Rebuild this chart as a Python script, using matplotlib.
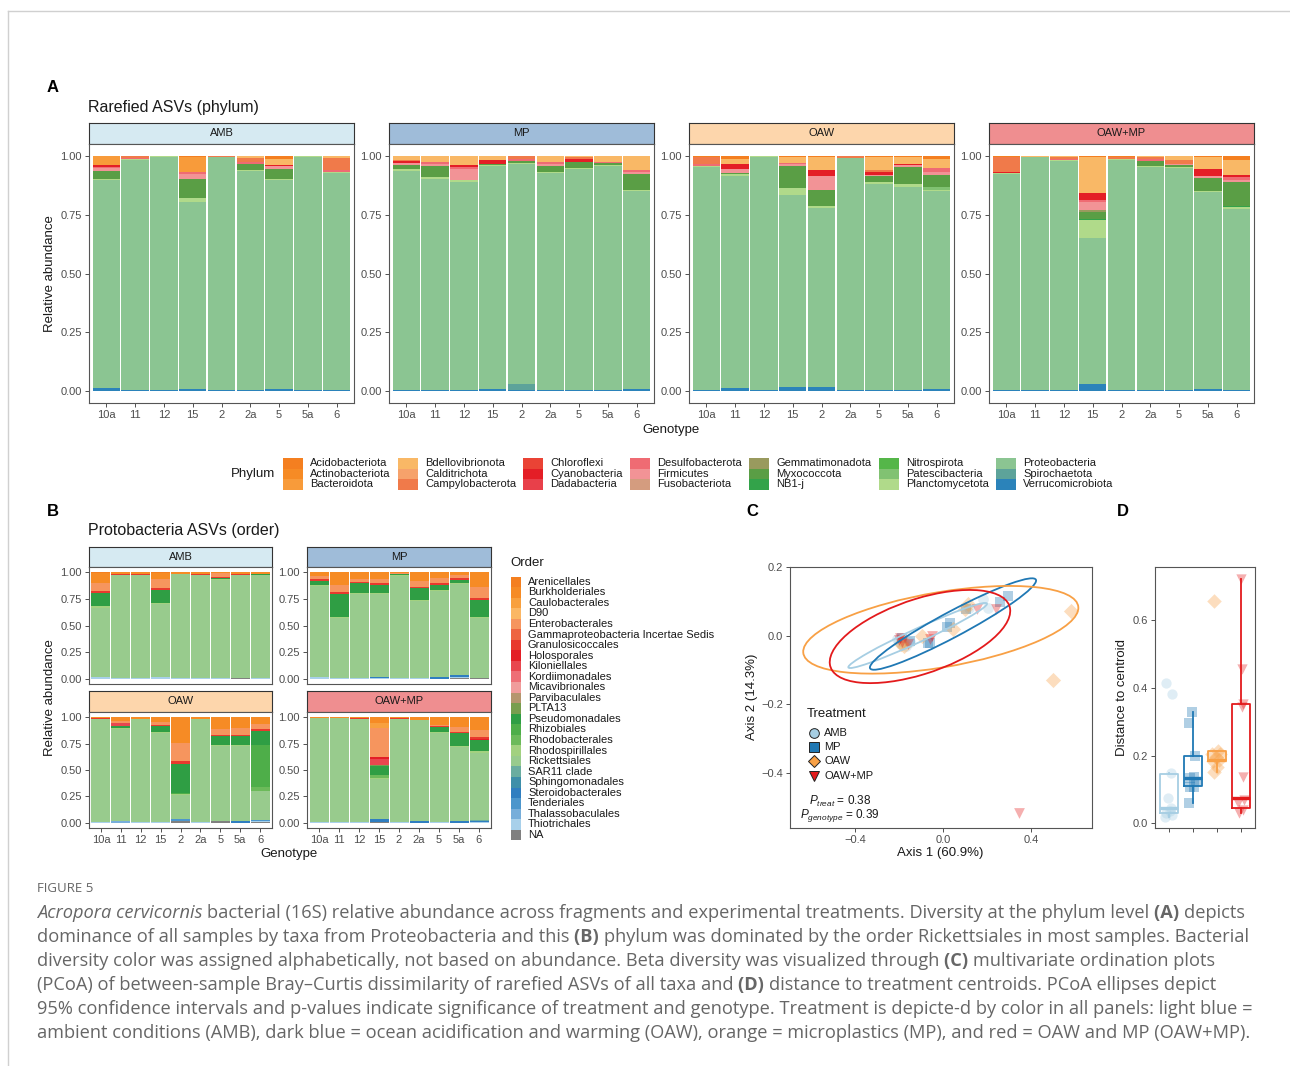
import numpy as np
import matplotlib
matplotlib.use("Agg")
import matplotlib.pyplot as plt
from matplotlib.patches import Ellipse, Rectangle
from matplotlib.lines import Line2D

plt.rcParams["font.family"] = ["Liberation Sans", "DejaVu Sans"]
plt.rcParams["mathtext.fontset"] = "custom"
plt.rcParams["mathtext.rm"] = "Liberation Sans"
plt.rcParams["mathtext.it"] = "Liberation Sans:italic"
plt.rcParams["mathtext.bf"] = "Liberation Sans:bold"

# ---------------- data ----------------
genotypes = ["10a", "11", "12", "15", "2", "2a", "5", "5a", "6"]
treatments = ["AMB", "MP", "OAW", "OAW+MP"]
strip_colors = ["#D6EAF2", "#9FBCD9", "#FDD6AC", "#EF8E90"]
treat_colors = ["#A6CEE3", "#1F78B4", "#F8A045", "#E31A1C"]
treat_markers = ["o", "s", "D", "v"]

phyla = ["Acidobacteriota", "Actinobacteriota", "Bacteroidota", "Bdellovibrionota",
         "Calditrichota", "Campylobacterota", "Chloroflexi", "Cyanobacteria",
         "Dadabacteria", "Desulfobacterota", "Firmicutes", "Fusobacteriota",
         "Gemmatimonadota", "Myxococcota", "NB1-j", "Nitrospirota", "Patescibacteria",
         "Planctomycetota", "Proteobacteria", "Spirochaetota", "Verrucomicrobiota"]
phylum_colors = ["#F47F20", "#F68B25", "#F89B3A", "#F9B866", "#F6A26B", "#F07A4A",
                 "#EA4335", "#E41E26", "#E8404A", "#EF6B73", "#F29396", "#D49C7F",
                 "#999A5E", "#5A9E45", "#33A34A", "#55B649", "#81C272", "#B0DA8A",
                 "#8BC592", "#5DA39A", "#2B83BA"]

phylum_amb = {
    "Verrucomicrobiota": [0.012, 0.005, 0.005, 0.010, 0.005, 0.005, 0.010, 0.005, 0.005],
    "Proteobacteria":    [0.883, 0.978, 0.990, 0.795, 0.988, 0.930, 0.885, 0.990, 0.920],
    "Planctomycetota":   [0.005, 0.004, 0.003, 0.017, 0.003, 0.005, 0.005, 0.003, 0.005],
    "Myxococcota":       [0.035, 0, 0, 0.080, 0, 0.025, 0.043, 0, 0],
    "Firmicutes":        [0.012, 0, 0, 0.020, 0, 0, 0.012, 0, 0],
    "Desulfobacterota":  [0.005, 0.004, 0, 0.008, 0, 0.010, 0, 0, 0.010],
    "Cyanobacteria":     [0.008, 0, 0, 0, 0, 0, 0.007, 0, 0],
    "Campylobacterota":  [0, 0.006, 0, 0, 0.004, 0.015, 0, 0, 0.050],
    "Bdellovibrionota":  [0, 0, 0, 0, 0, 0.010, 0.023, 0, 0.010],
    "Bacteroidota":      [0.040, 0, 0.002, 0.065, 0, 0, 0, 0.002, 0],
    "Acidobacteriota":   [0, 0.003, 0, 0.005, 0, 0, 0.015, 0, 0],
}
phylum_mp = {
    "Verrucomicrobiota": [0.005, 0.004, 0.004, 0.010, 0.005, 0.005, 0.004, 0.004, 0.008],
    "Spirochaetota":     [0, 0, 0, 0, 0.025, 0, 0, 0, 0],
    "Proteobacteria":    [0.930, 0.898, 0.883, 0.948, 0.935, 0.922, 0.940, 0.951, 0.842],
    "Planctomycetota":   [0.007, 0.008, 0.008, 0.004, 0.004, 0.005, 0.004, 0.004, 0.006],
    "Myxococcota":       [0.020, 0.045, 0.003, 0.005, 0.008, 0.025, 0.027, 0.010, 0.066],
    "Firmicutes":        [0.008, 0.012, 0.047, 0, 0, 0.010, 0, 0, 0.010],
    "Desulfobacterota":  [0, 0.005, 0.007, 0, 0.010, 0.008, 0, 0.005, 0.008],
    "Cyanobacteria":     [0.008, 0, 0.010, 0.017, 0, 0, 0.010, 0, 0],
    "Campylobacterota":  [0.006, 0, 0, 0, 0.013, 0, 0.008, 0, 0],
    "Bdellovibrionota":  [0.016, 0.028, 0.038, 0.016, 0, 0.025, 0.007, 0.026, 0.060],
}
phylum_oaw = {
    "Verrucomicrobiota": [0.004, 0.012, 0.004, 0.020, 0.018, 0.004, 0.007, 0.004, 0.008],
    "Proteobacteria":    [0.948, 0.904, 0.990, 0.815, 0.761, 0.985, 0.871, 0.862, 0.842],
    "Planctomycetota":   [0.004, 0.008, 0.003, 0.027, 0.008, 0.003, 0.012, 0.014, 0.006],
    "Patescibacteria":   [0, 0, 0, 0, 0, 0, 0, 0, 0.012],
    "Myxococcota":       [0, 0.004, 0, 0.094, 0.067, 0, 0.022, 0.074, 0.051],
    "Firmicutes":        [0, 0.015, 0, 0.010, 0.062, 0, 0.008, 0.008, 0.012],
    "Desulfobacterota":  [0.008, 0, 0, 0.005, 0, 0, 0, 0, 0.020],
    "Cyanobacteria":     [0, 0.020, 0, 0, 0.025, 0, 0.010, 0.005, 0],
    "Campylobacterota":  [0.030, 0, 0.003, 0, 0, 0.008, 0.010, 0, 0],
    "Bdellovibrionota":  [0, 0.022, 0, 0.025, 0.055, 0, 0.055, 0.028, 0.035],
    "Acidobacteriota":   [0.006, 0.015, 0, 0.004, 0.004, 0, 0.005, 0.005, 0.015],
}
phylum_oawmp = {
    "Verrucomicrobiota": [0.005, 0.005, 0.005, 0.030, 0.004, 0.005, 0.004, 0.010, 0.005],
    "Proteobacteria":    [0.918, 0.988, 0.974, 0.619, 0.979, 0.946, 0.943, 0.833, 0.771],
    "Planctomycetota":   [0.004, 0.003, 0.004, 0.080, 0.004, 0.005, 0.004, 0.004, 0.005],
    "NB1-j":             [0, 0, 0, 0.004, 0, 0, 0, 0, 0.005],
    "Myxococcota":       [0, 0, 0, 0.030, 0, 0.022, 0.008, 0.056, 0.102],
    "Gemmatimonadota":   [0, 0, 0, 0.006, 0, 0, 0, 0, 0],
    "Firmicutes":        [0, 0, 0, 0.035, 0, 0, 0.008, 0.008, 0.010],
    "Desulfobacterota":  [0, 0, 0.006, 0.010, 0, 0.008, 0, 0, 0.010],
    "Cyanobacteria":     [0.005, 0, 0, 0.030, 0, 0, 0, 0.030, 0.012],
    "Campylobacterota":  [0.063, 0, 0.007, 0, 0.009, 0.010, 0.015, 0, 0],
    "Bdellovibrionota":  [0, 0.004, 0.006, 0.150, 0, 0.004, 0.018, 0.050, 0.060],
    "Acidobacteriota":   [0.005, 0, 0, 0.006, 0.004, 0, 0, 0.006, 0.020],
}

orders = ["Arenicellales", "Burkholderiales", "Caulobacterales", "D90", "Enterobacterales",
          "Gammaproteobacteria Incertae Sedis", "Granulosicoccales", "Holosporales",
          "Kiloniellales", "Kordiimonadales", "Micavibrionales", "Parvibaculales", "PLTA13",
          "Pseudomonadales", "Rhizobiales", "Rhodobacterales", "Rhodospirillales",
          "Rickettsiales", "SAR11 clade", "Sphingomonadales", "Steroidobacterales",
          "Tenderiales", "Thalassobaculales", "Thiotrichales", "NA"]
order_colors = ["#F47F20", "#F68B25", "#F8A03E", "#FBB764", "#F6955E", "#EE6541",
                "#E8392E", "#E31E26", "#E8474F", "#EE6F76", "#F09C9B", "#B5966E",
                "#789E4E", "#2F9E44", "#4EAE49", "#6CBA5A", "#A2D17F", "#98CB8D",
                "#6AADA0", "#3E8FA9", "#2F7EC0", "#4C96CC", "#77AEDA", "#A8D0EA", "#808080"]

order_amb = {
    "Thiotrichales":     [0.015, 0.005, 0.010, 0.020, 0.005, 0.005, 0.005, 0, 0.005],
    "NA":                [0, 0, 0, 0, 0, 0, 0, 0.010, 0],
    "Rickettsiales":     [0.650, 0.973, 0.968, 0.686, 0.980, 0.970, 0.922, 0.965, 0.970],
    "Rhodospirillales":  [0.015, 0, 0, 0.010, 0, 0, 0.008, 0, 0],
    "Pseudomonadales":   [0.127, 0, 0, 0.120, 0, 0, 0.015, 0, 0.010],
    "Granulosicoccales": [0.022, 0.010, 0.010, 0.015, 0, 0.010, 0.010, 0.012, 0],
    "Enterobacterales":  [0.073, 0, 0, 0.085, 0, 0, 0.030, 0, 0],
    "Burkholderiales":   [0.095, 0.012, 0.012, 0.060, 0.015, 0.015, 0.010, 0.013, 0.015],
    "Arenicellales":     [0.003, 0, 0, 0.004, 0, 0, 0, 0, 0],
}
order_mp = {
    "Thiotrichales":      [0.015, 0.010, 0.010, 0.010, 0.005, 0.005, 0, 0.010, 0],
    "Steroidobacterales": [0, 0, 0, 0.010, 0, 0, 0.020, 0.010, 0],
    "NA":                 [0, 0, 0, 0, 0, 0, 0, 0.010, 0.010],
    "Rickettsiales":      [0.858, 0.563, 0.790, 0.777, 0.963, 0.720, 0.806, 0.859, 0.563],
    "Rhodospirillales":   [0.010, 0.010, 0.010, 0.010, 0.005, 0.010, 0.010, 0.010, 0.010],
    "Pseudomonadales":    [0.035, 0.212, 0.085, 0.075, 0.007, 0.114, 0.045, 0.025, 0.158],
    "Granulosicoccales":  [0.015, 0.020, 0.010, 0.013, 0, 0.015, 0.015, 0.020, 0.020],
    "Enterobacterales":   [0.032, 0.065, 0.030, 0.045, 0.010, 0.055, 0.055, 0.030, 0.104],
    "Burkholderiales":    [0.035, 0.120, 0.065, 0.060, 0.010, 0.080, 0.050, 0.025, 0.135],
}
order_oaw = {
    "Thiotrichales":      [0.005, 0, 0.005, 0.005, 0, 0.005, 0, 0, 0.010],
    "Thalassobaculales":  [0, 0.020, 0, 0, 0, 0, 0, 0, 0],
    "Tenderiales":        [0, 0, 0, 0, 0.015, 0, 0, 0, 0.010],
    "Steroidobacterales": [0, 0, 0, 0, 0, 0, 0, 0.015, 0],
    "NA":                 [0, 0, 0, 0, 0.020, 0, 0.015, 0, 0.010],
    "Rickettsiales":      [0.980, 0.867, 0.980, 0.850, 0.226, 0.980, 0.715, 0.715, 0.270],
    "Rhodospirillales":   [0, 0.010, 0, 0.010, 0.010, 0, 0.010, 0.010, 0],
    "Rhodobacterales":    [0, 0, 0, 0, 0, 0, 0, 0, 0.040],
    "Rhizobiales":        [0, 0, 0, 0, 0.010, 0, 0, 0, 0.400],
    "Pseudomonadales":    [0, 0.020, 0, 0.050, 0.274, 0, 0.080, 0.080, 0.132],
    "Kiloniellales":      [0, 0.030, 0, 0, 0, 0, 0, 0, 0],
    "Granulosicoccales":  [0.005, 0, 0, 0.015, 0.025, 0, 0.015, 0.015, 0.015],
    "Enterobacterales":   [0, 0.020, 0, 0.025, 0.173, 0, 0.050, 0.065, 0.050],
    "Burkholderiales":    [0.010, 0.033, 0.015, 0.045, 0.245, 0.015, 0.115, 0.100, 0.063],
}
order_oawmp = {
    "Thiotrichales":      [0.005, 0.005, 0.005, 0, 0.005, 0, 0.010, 0, 0.010],
    "Steroidobacterales": [0, 0, 0, 0.030, 0, 0.015, 0, 0.020, 0.010],
    "SAR11 clade":        [0, 0, 0, 0, 0, 0, 0, 0, 0.010],
    "NA":                 [0, 0, 0, 0.010, 0, 0, 0, 0, 0],
    "Rickettsiales":      [0.985, 0.985, 0.980, 0.370, 0.980, 0.960, 0.845, 0.697, 0.637],
    "Rhodospirillales":   [0.005, 0, 0, 0.010, 0, 0, 0.010, 0.010, 0.010],
    "Rhodobacterales":    [0, 0, 0, 0.030, 0, 0, 0, 0, 0],
    "Pseudomonadales":    [0, 0, 0, 0.085, 0, 0, 0.045, 0.120, 0.110],
    "PLTA13":             [0, 0, 0, 0.010, 0, 0, 0, 0, 0],
    "Kiloniellales":      [0, 0, 0, 0.060, 0, 0, 0, 0, 0],
    "Holosporales":       [0, 0, 0, 0.015, 0, 0, 0, 0, 0.010],
    "Granulosicoccales":  [0, 0, 0.010, 0, 0.010, 0, 0.010, 0.015, 0.015],
    "Enterobacterales":   [0, 0, 0, 0.280, 0, 0, 0.010, 0.050, 0.070],
    "Caulobacterales":    [0, 0, 0, 0.050, 0, 0, 0, 0, 0],
    "Burkholderiales":    [0.005, 0.010, 0.005, 0.050, 0.005, 0.025, 0.070, 0.088, 0.120],
}

# PCoA scores (Axis 1, Axis 2)
amb_ax1 = [0.183, 0.206, 0.120, -0.180, -0.200, -0.170, -0.190, -0.150, -0.210]
amb_ax2 = [0.106, 0.081, 0.080, -0.020, -0.015, -0.030, -0.025, -0.020, -0.010]
mp_ax1 = [0.297, 0.259, 0.103, 0.032, 0.017, -0.067, -0.058, -0.150, -0.188]
mp_ax2 = [0.116, 0.099, 0.076, 0.037, 0.026, -0.021, -0.022, -0.017, -0.007]
oaw_ax1 = [0.582, 0.501, 0.115, 0.100, 0.047, -0.097, -0.180, -0.190, -0.175]
oaw_ax2 = [0.072, -0.129, 0.091, 0.078, 0.018, -0.002, -0.017, -0.025, -0.030]
oawmp_ax1 = [0.347, 0.153, 0.241, -0.051, -0.060, -0.195, -0.158, -0.185, -0.200]
oawmp_ax2 = [-0.517, 0.078, 0.076, -0.002, -0.010, -0.007, -0.026, -0.020, -0.012]
# 95% ellipses: centre x, centre y, half extent x, half extent y, correlation
ellipse_amb = [-0.115, 0.000, 0.315, 0.095, 0.973]
ellipse_mp = [0.0455, 0.0335, 0.3775, 0.1335, 0.95]
ellipse_oaw = [-0.010, 0.0167, 0.625, 0.128, 0.50]
ellipse_oawmp = [-0.1045, -0.003, 0.410, 0.136, 0.55]

# distance to centroid
dist_amb = [0.414, 0.381, 0.148, 0.074, 0.044, 0.035, 0.030, 0.025, 0.020]
dist_mp = [0.330, 0.296, 0.199, 0.138, 0.133, 0.123, 0.108, 0.108, 0.061]
dist_oaw = [0.656, 0.214, 0.205, 0.195, 0.188, 0.183, 0.167, 0.152, 0.205]
dist_oawmp = [0.722, 0.456, 0.352, 0.344, 0.138, 0.070, 0.060, 0.040, 0.030]
jitter_amb = [-0.10, 0.15, 0.10, -0.05, 0.10, 0.05, -0.12, 0.12, -0.15]
jitter_mp = [-0.05, -0.15, 0.10, 0.05, -0.10, 0.15, -0.10, 0.05, -0.15]
jitter_oaw = [-0.10, 0.05, 0.15, -0.05, 0.10, -0.15, 0.00, -0.10, -0.20]
jitter_oawmp = [0.00, 0.05, 0.10, 0.05, 0.10, 0.15, -0.10, 0.10, -0.05]
box_q1 = [0.029, 0.110, 0.185, 0.046]
box_med = [0.044, 0.133, 0.188, 0.074]
box_q3 = [0.145, 0.199, 0.215, 0.352]
box_lo = [0.020, 0.061, 0.152, 0.030]
box_hi = [0.148, 0.330, 0.215, 0.722]

# ---------------- layout helpers ----------------
W, H = 1290, 1066
TXT = "#4D4D4D"
DARK = "#1A1A1A"
fig = plt.figure(figsize=(W / 100, H / 100), dpi=100)


def fx(x):
    return x / W


def fy(y):
    return 1 - y / H


def add_ax(x0, y0, x1, y1):
    return fig.add_axes([x0 / W, 1 - y1 / H, (x1 - x0) / W, (y1 - y0) / H])


def style(ax):
    for s in ax.spines.values():
        s.set_color("#555555")
        s.set_linewidth(0.8)
    ax.tick_params(colors="#333333", labelcolor=TXT, labelsize=8, length=3, width=0.6, pad=2)


def strip(x0, y0, x1, y1, label, color):
    sa = add_ax(x0, y0, x1, y1)
    sa.set_facecolor(color)
    sa.set_xticks([])
    sa.set_yticks([])
    for s in sa.spines.values():
        s.set_color("#333333")
        s.set_linewidth(0.8)
    sa.text(0.5, 0.5, label, ha="center", va="center", fontsize=8, color=DARK,
            transform=sa.transAxes)


def stacked(ax, table, names, colors, xlabels=True):
    x = np.arange(1, len(genotypes) + 1)
    total = np.sum([table[k] for k in table], axis=0)
    bottom = np.zeros(len(x))
    for name, col in zip(names[::-1], colors[::-1]):
        if name in table:
            v = np.asarray(table[name], dtype=float) / total
            ax.bar(x, v, width=0.95, bottom=bottom, color=col, linewidth=0)
            bottom += v
    ax.set_xlim(0.4, 9.6)
    ax.set_ylim(-0.05, 1.05)
    ax.set_yticks([0, 0.25, 0.5, 0.75, 1.0])
    ax.set_yticklabels(["0.00", "0.25", "0.50", "0.75", "1.00"])
    style(ax)
    if xlabels:
        ax.set_xticks(x)
        ax.set_xticklabels(genotypes)
    else:
        ax.set_xticks([])


# ---------------- panel A ----------------
fig.text(fx(53), fy(87), "A", fontsize=12, fontweight="bold", ha="center", va="center")
fig.text(fx(88), fy(107), "Rarefied ASVs (phylum)", fontsize=11.5, ha="left", va="center", color=DARK)
a_cols = [(89, 354), (389, 654), (689, 954), (989, 1254)]
a_tables = [phylum_amb, phylum_mp, phylum_oaw, phylum_oawmp]
for (x0, x1), tab, lab, sc in zip(a_cols, a_tables, treatments, strip_colors):
    strip(x0, 123, x1, 144, lab, sc)
    ax = add_ax(x0, 144, x1, 403)
    stacked(ax, tab, phyla, phylum_colors)
fig.text(fx(50), fy(274), "Relative abundance", rotation=90, fontsize=9.5, ha="center", va="center", color=DARK)
fig.text(fx(671), fy(430), "Genotype", fontsize=9.5, ha="center", va="center", color=DARK)

# phylum legend
fig.text(fx(253), fy(474), "Phylum", fontsize=9.5, ha="center", va="center", color=DARK)
leg_cols = [283, 398, 523, 630, 749, 879, 996]
for i, (name, col) in enumerate(zip(phyla, phylum_colors)):
    cx = leg_cols[i // 3]
    top = 458 + (i % 3) * 10.5
    fig.add_artist(Rectangle((fx(cx), fy(top + 10.5)), 20 / W, 10.5 / H, transform=fig.transFigure,
                             facecolor=col, edgecolor="none"))
    fig.text(fx(cx + 27), fy(top + 5.25), name, fontsize=8, ha="left", va="center", color=DARK)

# ---------------- panel B ----------------
fig.text(fx(53), fy(512), "B", fontsize=12, fontweight="bold", ha="center", va="center")
fig.text(fx(88), fy(531), "Protobacteria ASVs (order)", fontsize=11.5, ha="left", va="center", color=DARK)
b_x = [(89, 272), (307, 491), (89, 272), (307, 491)]
b_strip_y = [(547, 567), (547, 567), (691, 712), (691, 712)]
b_ax_y = [(567, 684), (567, 684), (712, 828), (712, 828)]
b_tables = [order_amb, order_mp, order_oaw, order_oawmp]
for k, ((x0, x1), (s0, s1), (a0, a1), tab, lab, sc) in enumerate(
        zip(b_x, b_strip_y, b_ax_y, b_tables, treatments, strip_colors)):
    strip(x0, s0, x1, s1, lab, sc)
    ax = add_ax(x0, a0, x1, a1)
    stacked(ax, tab, orders, order_colors, xlabels=(k >= 2))
fig.text(fx(50), fy(698), "Relative abundance", rotation=90, fontsize=9.5, ha="center", va="center", color=DARK)
fig.text(fx(289), fy(854), "Genotype", fontsize=9.5, ha="center", va="center", color=DARK)

# order legend
fig.text(fx(510), fy(563), "Order", fontsize=9.5, ha="left", va="center", color=DARK)
for i, (name, col) in enumerate(zip(orders, order_colors)):
    top = 576.5 + i * 10.55
    fig.add_artist(Rectangle((fx(511), fy(top + 10.55)), 10 / W, 10.55 / H, transform=fig.transFigure,
                             facecolor=col, edgecolor="none"))
    fig.text(fx(528), fy(top + 5.3), name, fontsize=8, ha="left", va="center", color=DARK)

# ---------------- panel C ----------------
fig.text(fx(752), fy(512), "C", fontsize=12, fontweight="bold", ha="center", va="center")
axc = add_ax(790, 567, 1092, 828)
pc_x = [amb_ax1, mp_ax1, oaw_ax1, oawmp_ax1]
pc_y = [amb_ax2, mp_ax2, oaw_ax2, oawmp_ax2]
ells = [ellipse_amb, ellipse_mp, ellipse_oaw, ellipse_oawmp]
for xs, ys, col, mk in zip(pc_x, pc_y, treat_colors, treat_markers):
    axc.scatter(xs, ys, s=60, marker=mk, color=col, alpha=0.35, linewidths=0, zorder=2)
for (cx, cy, hx, hy, rho), col in zip(ells, treat_colors):
    cov = np.array([[hx ** 2, rho * hx * hy], [rho * hx * hy, hy ** 2]])
    vals, vecs = np.linalg.eigh(cov)
    ang = np.degrees(np.arctan2(vecs[1, 1], vecs[0, 1]))
    axc.add_patch(Ellipse((cx, cy), 2 * np.sqrt(vals[1]), 2 * np.sqrt(vals[0]), angle=ang,
                          fill=False, edgecolor=col, linewidth=1.3, zorder=3))
axc.set_xlim(-0.695, 0.677)
axc.set_ylim(-0.562, 0.2)
axc.set_xticks([-0.4, 0.0, 0.4])
axc.set_xticklabels(["\u22120.4", "0.0", "0.4"])
axc.set_yticks([-0.4, -0.2, 0.0, 0.2])
axc.set_yticklabels(["\u22120.4", "\u22120.2", "0.0", "0.2"])
style(axc)
fig.text(fx(752), fy(697), "Axis 2 (14.3%)", rotation=90, fontsize=9.5, ha="center", va="center", color=DARK)
fig.text(fx(940), fy(853), "Axis 1 (60.9%)", fontsize=9.5, ha="center", va="center", color=DARK)

# treatment legend
fig.text(fx(807), fy(714), "Treatment", fontsize=9.5, ha="left", va="center", color=DARK)
for i, (lab, col, mk) in enumerate(zip(treatments, treat_colors, treat_markers)):
    yy = 733 + i * 14.2
    fig.add_artist(Line2D([fx(814)], [fy(yy)], marker=mk, markersize=7 if mk != "D" else 6,
                          markerfacecolor=col, markeredgecolor="#222222", markeredgewidth=0.7,
                          linestyle="none", transform=fig.transFigure))
    fig.text(fx(824), fy(yy), lab, fontsize=8, ha="left", va="center", color=DARK)
fig.text(fx(840), fy(801), r"$P_{treat}$ = 0.38", fontsize=8.5, ha="center", va="center", color=DARK)
fig.text(fx(840), fy(815), r"$P_{genotype}$ = 0.39", fontsize=8.5, ha="center", va="center", color=DARK)

# ---------------- panel D ----------------
fig.text(fx(1123), fy(512), "D", fontsize=12, fontweight="bold", ha="center", va="center")
axd = add_ax(1155, 567, 1255, 828)
dists = [dist_amb, dist_mp, dist_oaw, dist_oawmp]
jits = [jitter_amb, jitter_mp, jitter_oaw, jitter_oawmp]
for i, (d, j, col, mk) in enumerate(zip(dists, jits, treat_colors, treat_markers)):
    stats = [dict(med=box_med[i], q1=box_q1[i], q3=box_q3[i], whislo=box_lo[i], whishi=box_hi[i], fliers=[])]
    axd.bxp(stats, positions=[i + 1], widths=0.76, showcaps=False, patch_artist=False,
            boxprops=dict(color=col, linewidth=1.3),
            whiskerprops=dict(color=col, linewidth=1.3),
            medianprops=dict(color=col, linewidth=2.4))
    axd.scatter(np.array(j) + i + 1, d, s=55, marker=mk, color=col, alpha=0.35, linewidths=0, zorder=3)
axd.set_xlim(0.42, 4.6)
axd.set_ylim(-0.014, 0.758)
axd.set_xticks([1, 2, 3, 4])
axd.set_xticklabels(["", "", "", ""])
axd.set_yticks([0.0, 0.2, 0.4, 0.6])
axd.set_yticklabels(["0.0", "0.2", "0.4", "0.6"])
style(axd)
fig.text(fx(1122), fy(697), "Distance to centroid", rotation=90, fontsize=9.5, ha="center", va="center", color=DARK)

# ---------------- frame and caption ----------------
fig.add_artist(Line2D([fx(8), fx(1290)], [fy(11), fy(11)], color="#D0D0D0", linewidth=1, transform=fig.transFigure))
fig.add_artist(Line2D([fx(8), fx(8)], [fy(11), fy(1066)], color="#D0D0D0", linewidth=1, transform=fig.transFigure))

cap_font = "Open Sans"
cap_color = "#666666"
fig.text(fx(37), fy(889), "FIGURE 5", fontsize=9.5, ha="left", va="center", color="#666666", family=cap_font)

caption_lines = [
    [("Acropora cervicornis ", "i"),
     ("bacterial (16S) relative abundance across fragments and experimental treatments. Diversity at the phylum level ", "r"),
     ("(A) ", "b"), ("depicts", "r")],
    [("dominance of all samples by taxa from Proteobacteria and this ", "r"), ("(B) ", "b"),
     ("phylum was dominated by the order Rickettsiales in most samples. Bacterial", "r")],
    [("diversity color was assigned alphabetically, not based on abundance. Beta diversity was visualized through ", "r"),
     ("(C) ", "b"), ("multivariate ordination plots", "r")],
    [("(PCoA) of between-sample Bray\u2013Curtis dissimilarity of rarefied ASVs of all taxa and ", "r"),
     ("(D) ", "b"), ("distance to treatment centroids. PCoA ellipses depict", "r")],
    [("95% confidence intervals and p-values indicate significance of treatment and genotype. Treatment is depicte-d by color in all panels: light blue =", "r")],
    [("ambient conditions (AMB), dark blue = ocean acidification and warming (OAW), orange = microplastics (MP), and red = OAW and MP (OAW+MP).", "r")],
]

renderer = fig.canvas.get_renderer()


def text_width(s, size, style_code):
    kw = dict(fontsize=size, family=cap_font)
    if style_code == "b":
        kw["fontweight"] = "bold"
    if style_code == "i":
        kw["fontstyle"] = "italic"
    t1 = fig.text(0, 0, s + "|", **kw)
    t2 = fig.text(0, 0, "|", **kw)
    w = t1.get_window_extent(renderer).width - t2.get_window_extent(renderer).width
    t1.remove()
    t2.remove()
    return w, kw


base_w, _ = text_width(caption_lines[4][0][0], 12, "r")
cap_size = 12 * (1246 - 37) / base_w

for k, parts in enumerate(caption_lines):
    x = 37.0
    yy = 913 + k * 24
    for s, st in parts:
        w, kw = text_width(s, cap_size, st)
        fig.text(fx(x), fy(yy), s, ha="left", va="center", color=cap_color, **kw)
        x += w

fig.savefig("out.png", dpi=100)
